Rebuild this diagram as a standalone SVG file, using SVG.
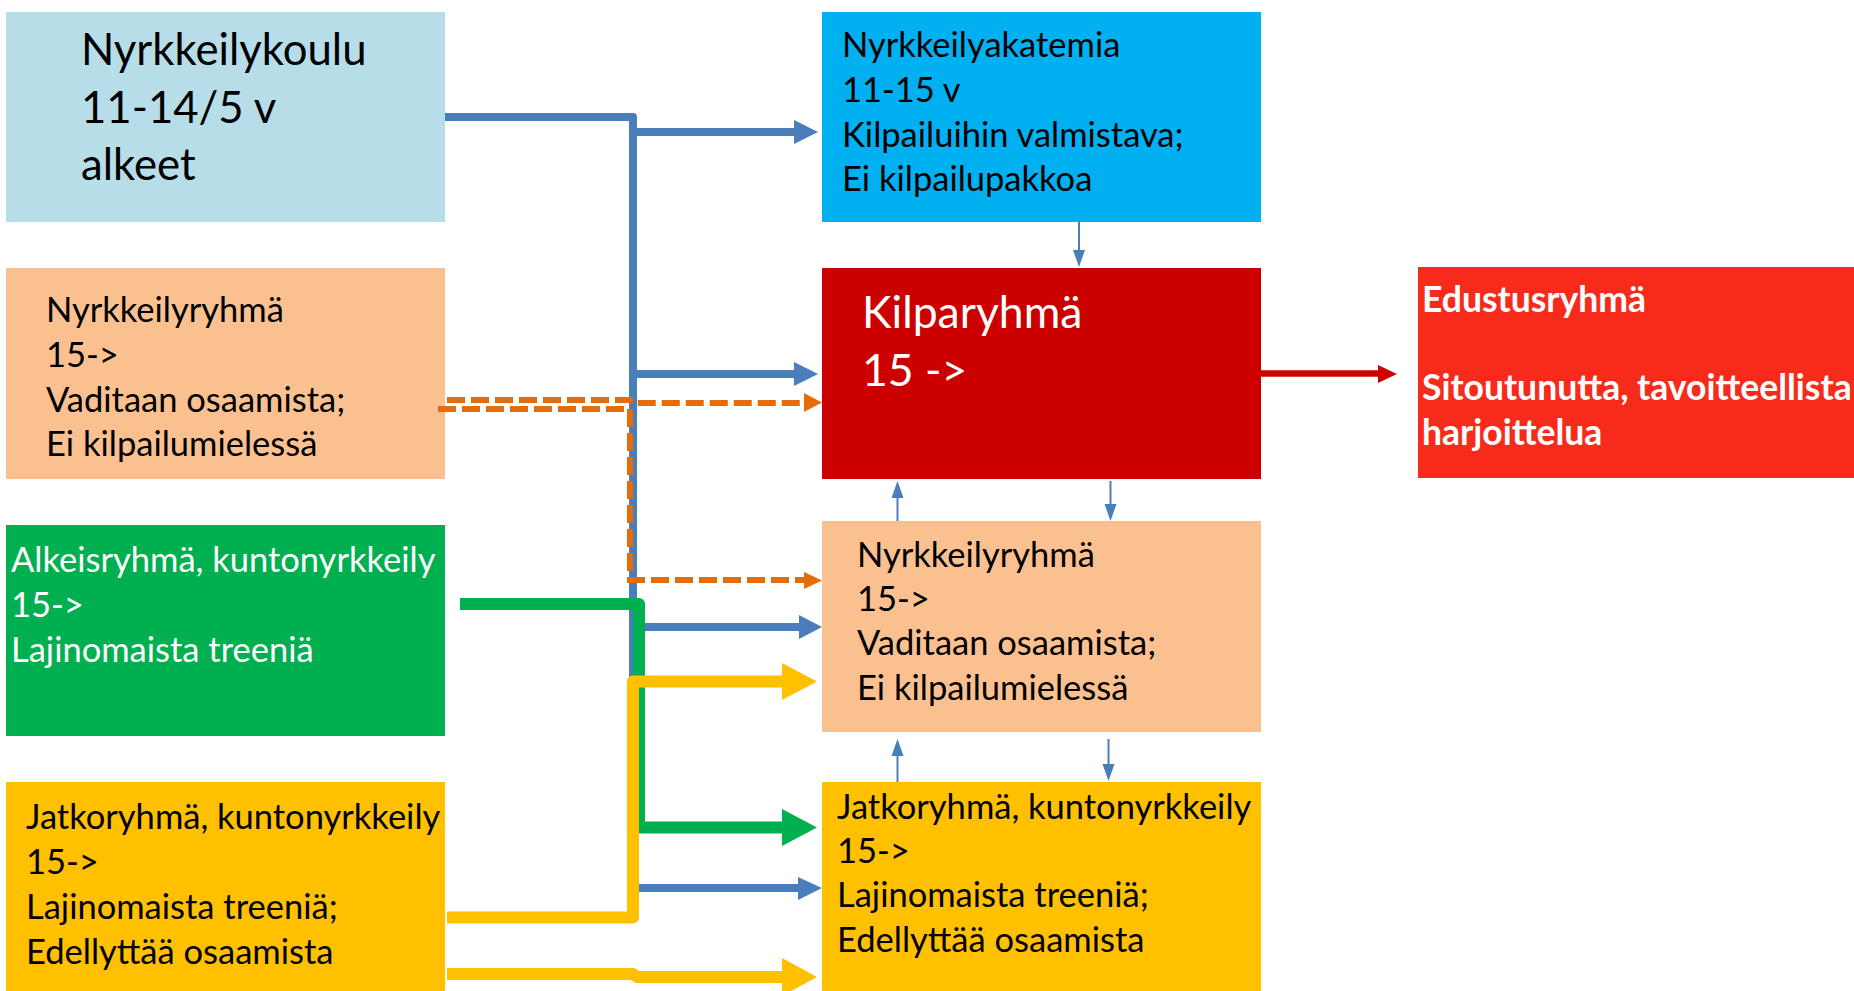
<svg xmlns="http://www.w3.org/2000/svg" width="1854" height="991" viewBox="0 0 1854 991">
<style>
text{font-family:Lato,"Open Sans",sans-serif;fill:#000}
.w{fill:#fff}
.s35{font-size:34.5px}
.s45{font-size:43.7px}
.k45{font-size:44.5px}
.b{font-weight:bold;font-size:35.5px}
.ln{fill:none;stroke-linejoin:round}
.blue{stroke:#4A7EBB;stroke-width:8}
.thin{stroke:#4A7EBB;stroke-width:2;fill:none}
.org{stroke:#E46C0A;stroke-width:6;stroke-dasharray:18 6;fill:none}
.grn{stroke:#00B050;stroke-width:12}
.yel{stroke:#FFC000;stroke-width:12}
</style>
<rect width="1854" height="991" fill="#fff"/>
<g id="nyrkkeilykoulu">
<rect x="6" y="12" width="439" height="210" fill="#B7DDE8"/>
<text class="s45" x="81" y="65">Nyrkkeilykoulu</text>
<text class="s45" x="81" y="123">11-14/5 v</text>
<text class="s45" x="81" y="180">alkeet</text>
</g>
<g id="nyrkkeilyryhma-left">
<rect x="6" y="268" width="439" height="211" fill="#FAC090"/>
<text class="s35" x="46" y="322">Nyrkkeilyryhmä</text>
<text class="s35" x="46" y="367">15-&gt;</text>
<text class="s35" x="46" y="412">Vaditaan osaamista;</text>
<text class="s35" x="46" y="456">Ei kilpailumielessä</text>
</g>
<g id="alkeisryhma">
<rect x="6" y="525" width="439" height="211" fill="#00B050"/>
<text class="s35 w" x="11" y="572">Alkeisryhmä, kuntonyrkkeily</text>
<text class="s35 w" x="11" y="617">15-&gt;</text>
<text class="s35 w" x="11" y="662">Lajinomaista treeniä</text>
</g>
<g id="jatkoryhma-left">
<rect x="6" y="782" width="439" height="209" fill="#FFC000"/>
<text class="s35" x="26" y="829">Jatkoryhmä, kuntonyrkkeily</text>
<text class="s35" x="26" y="874">15-&gt;</text>
<text class="s35" x="26" y="919">Lajinomaista treeniä;</text>
<text class="s35" x="26" y="964">Edellyttää osaamista</text>
</g>
<g id="nyrkkeilyakatemia">
<rect x="822" y="12" width="439" height="210" fill="#00B0F0"/>
<text class="s35" x="842" y="57">Nyrkkeilyakatemia</text>
<text class="s35" x="842" y="102">11-15 v</text>
<text class="s35" x="842" y="147">Kilpailuihin valmistava;</text>
<text class="s35" x="842" y="191">Ei kilpailupakkoa</text>
</g>
<g id="kilparyhma">
<rect x="822" y="268" width="439" height="211" fill="#CC0000"/>
<text class="k45 w" x="862" y="328">Kilparyhmä</text>
<text class="k45 w" x="862" y="386">15 -&gt;</text>
</g>
<g id="edustusryhma">
<rect x="1418" y="267" width="436" height="211" fill="#F72B1B"/>
<text class="w b" x="1422" y="312">Edustusryhmä</text>
<text class="w b" x="1422" y="400">Sitoutunutta, tavoitteellista</text>
<text class="w b" x="1422" y="445">harjoittelua</text>
</g>
<g id="nyrkkeilyryhma-right">
<rect x="822" y="521" width="439" height="211" fill="#FAC090"/>
<text class="s35" x="857" y="567">Nyrkkeilyryhmä</text>
<text class="s35" x="857" y="611">15-&gt;</text>
<text class="s35" x="857" y="655">Vaditaan osaamista;</text>
<text class="s35" x="857" y="700">Ei kilpailumielessä</text>
</g>
<g id="jatkoryhma-right">
<rect x="822" y="782" width="439" height="209" fill="#FFC000"/>
<text class="s35" x="837" y="819">Jatkoryhmä, kuntonyrkkeily</text>
<text class="s35" x="837" y="863">15-&gt;</text>
<text class="s35" x="837" y="907">Lajinomaista treeniä;</text>
<text class="s35" x="837" y="952">Edellyttää osaamista</text>
</g>
<g id="connectors">
<path class="ln blue" d="M445,117 H633 V888"/>
<path class="ln blue" d="M633,132 H796 M633,374 H796 M638,627 H801 M638,888 H800"/>
<polygon fill="#4A7EBB" points="794,120 818,132 794,144"/>
<polygon fill="#4A7EBB" points="794,362 818,374 794,386"/>
<polygon fill="#4A7EBB" points="799,615 822,627 799,639"/>
<polygon fill="#4A7EBB" points="798,877 822,888 798,900"/>
<path class="org" d="M447,400 H633 L636,403 H806"/>
<polygon fill="#E46C0A" points="804,393 822,402.5 804,412"/>
<path class="org" d="M438,409 H630 V580 H806"/>
<polygon fill="#E46C0A" points="804,572 822,580.5 804,589"/>
<path class="ln grn" d="M460,604 H639 V827.5 H784"/>
<polygon fill="#00B050" points="782,809 817,827.5 782,846"/>
<path class="ln yel" d="M447,917.5 H633 V681.5 H784"/>
<polygon fill="#FFC000" points="782,663 817,681.5 782,700"/>
<path class="ln yel" d="M447,974 H633 L637,977 H784"/>
<polygon fill="#FFC000" points="782,958 817,977 782,996"/>
<path d="M1261,373.5 H1380" stroke="#CC0000" stroke-width="6.5" fill="none"/>
<polygon fill="#CC0000" points="1378,365 1397,374 1378,383"/>
<path class="thin" d="M1079,222 V254"/>
<polygon fill="#4A7EBB" points="1073,250 1079,267 1085,250"/>
<path class="thin" d="M897.5,521 V494"/>
<polygon fill="#4A7EBB" points="891.5,498 897.5,481 903.5,498"/>
<path class="thin" d="M1110.5,481 V508"/>
<polygon fill="#4A7EBB" points="1104.5,504 1110.5,521 1116.5,504"/>
<path class="thin" d="M897.5,782 V752"/>
<polygon fill="#4A7EBB" points="891.5,756 897.5,739 903.5,756"/>
<path class="thin" d="M1108.5,739 V768"/>
<polygon fill="#4A7EBB" points="1102.5,764 1108.5,781 1114.5,764"/>
</g>
</svg>
